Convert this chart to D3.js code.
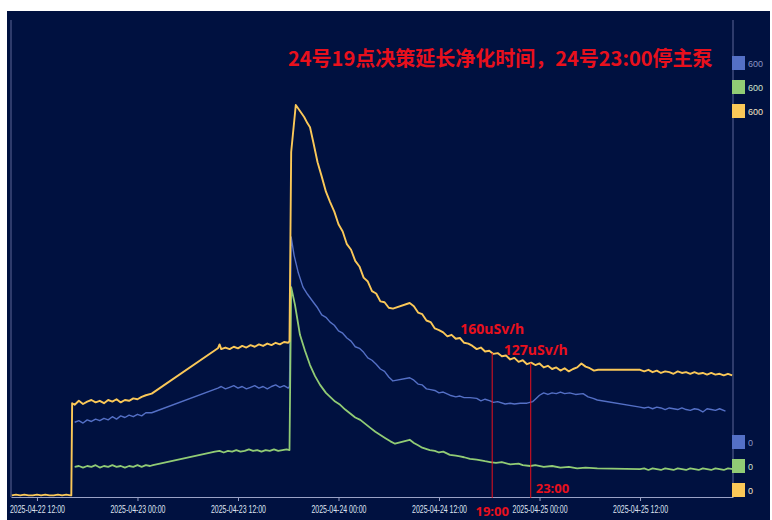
<!DOCTYPE html>
<html>
<head>
<meta charset="utf-8">
<script src="https://cdn.jsdelivr.net/npm/d3@7"></script>
<style>
  body { margin: 0; background: #fff; }
  svg { display: block; }
</style>
</head>
<body>
<script>
// time is counted in hours from 2025-04-22 00:00, values on a 0-600 axis
var yellowData = [
  [9,2],[9.5,3],[10,2],[10.5,3],[11,2],[11.5,2],[12,3],[12.5,2],[13,3],[13.5,2],[14,2],[14.5,3],[15,2],[15.5,3],[16,2],[16.1,2],
  [16.2,118],[16.5,116],[17,121],[17.5,117],[18,120],[18.5,122],[19,119],[19.5,121],[20,118],[20.5,122],[21,120],[21.5,123],[22,119],[22.5,122],[23,121],[23.5,124],[24,123],[24.5,126],[25,128],[25.7,130],
  [33.6,187],[33.8,192],[34,186],[34.5,188],[35,186],[35.5,189],[36,187],[36.5,190],[37,188],[37.5,191],[38,189],[38.5,192],[39,190],[39.5,193],[40,191],[40.5,194],[41,192],[41.5,195],[42,194],[42.15,196],
  [42.35,434],[42.9,493],[43.9,478],[44.3,470],[44.6,465],
  [45,446],[45.5,421],[46,403],[46.5,384],[47,371],[47.5,359],[48,343],[48.5,334],[49,318],[49.5,311],[50,297],[50.5,290],[51,276],[51.5,271],[52,259],[52.5,256],[53,246],[53.5,245],[54,238],[54.5,237],
  [56.5,244],[57,240],[57.5,232],[58,230],[58.5,222],[59,220],[59.5,212],[60,210],[60.5,207],[61,202],[61.5,204],[62,199],[62.5,200],[63,194],[63.5,193],[64,190],[64.5,186],[65,188],[65.5,183],[66,184],[66.5,180],[67,181],[67.5,177],[68,178],[68.5,173],[69,175],[69.5,170],[70,172],[70.5,167],[71,169],[71.5,166],[72,168],[72.5,163],[73,165],[73.5,161],[74,163],[74.5,159],[75,162],[75.5,158],[76,161],[76.5,163],[77,168],[77.5,164],[78,162],[78.5,159],[79,160],
  [84,160],[84.5,158],[85,160],[85.5,157],[86,159],[86.5,156],[87,158],[87.5,157],[88,155],[88.5,158],[89,156],[89.5,157],[90,155],[90.5,157],[91,155],[91.5,156],[92,154],[92.5,156],[93,154],[93.5,155],[94,153],[94.5,155],[95,153]
];
var blueData = [
  [16.5,94],[17,96],[17.5,93],[18,97],[18.5,95],[19,98],[19.5,96],[20,99],[20.5,97],[21,101],[21.5,98],[22,102],[22.5,100],[23,103],[23.5,101],[24,104],[24.5,102],[25,106],[25.7,106],
  [33.6,137],[34,139],[34.5,136],[35,138],[35.5,140],[36,137],[36.5,139],[37,136],[37.5,138],[38,140],[38.5,137],[39,139],[39.5,136],[40,139],[40.5,141],[41,138],[41.5,140],[42,137],[42.15,139],
  [42.35,327],[42.7,304],[43.2,282],[43.76,264],[44.3,255],[45,245],[45.5,238],[46,229],[46.5,226],[47,220],[47.5,216],[48,209],[48.5,206],[49,200],[49.5,196],[50,189],[50.5,187],[51,182],[51.5,175],[52,172],[52.5,167],[53,161],[53.5,158],[54,151],[54.5,146],
  [56.5,150],[57,147],[57.5,142],[58,141],[58.5,136],[59,135],[59.5,134],[60,131],[60.5,132],[61.3,128],[62,126],[62.5,127],[63,125],[63.7,125],[64.5,124],[65,121],[65.5,123],[66.1,121],[66.5,119],[67,120],[67.9,117],[68.5,118],[69,117],[69.7,118],[70.5,118],[71.2,120],[71.6,124],[72,128],[72.5,131],[73,129],[73.5,131],[74,130],[74.5,132],[75,130],[75.6,131],[76.3,129],[77.2,130],[77.8,126],[78.4,124],[78.9,122],
  [84,113],[84.5,112],[85,113],[85.5,111],[86,113],[86.5,112],[87,110],[87.5,112],[88,111],[88.5,110],[89,112],[89.5,110],[90,109],[90.5,111],[91,110],[91.5,107],[92,111],[92.5,110],[93,109],[93.5,111],[94.2,108]
];
var greenData = [
  [16.5,38],[17,39],[17.5,37],[18,39],[18.5,38],[19,40],[19.5,37],[20,39],[20.5,38],[21,40],[21.5,38],[22,39],[22.5,37],[23,39],[23.5,38],[24,40],[24.5,38],[25,40],[25.5,39],[25.85,40],
  [33.25,57],[33.8,58],[34.3,56],[34.8,58],[35.3,57],[35.8,59],[36.3,57],[36.8,58],[37.3,60],[37.8,58],[38.3,59],[38.8,57],[39.3,59],[39.8,58],[40.3,60],[40.8,58],[41.3,59],[41.8,60],[42.15,59],
  [42.35,264],[42.8,242],[43.4,204],[44,184],[44.6,166],[45.2,152],[45.8,141],[46.5,131],[47,126],[47.6,120],[48.2,116],[48.8,110],[49.4,105],[50,100],[50.6,97],[51.2,92],[51.8,87],[52.4,82],[53,78],[53.6,74],[54.2,70],[54.75,67],
  [56.5,72],[57,68],[57.5,65],[58,62],[58.9,59],[59.5,58],[60,56],[60.5,57],[61.3,53],[62,52],[62.5,51],[63,50],[63.7,48],[64.5,47],[65,46],[65.5,45],[66.1,44],[66.8,43],[67.5,44],[68.5,41],[69.5,42],[70,40],[70.9,39],[71.5,40],[72.5,38],[73.5,39],[74.5,37],[75.5,38],[76.5,36],[77.5,37],[78.9,36],
  [84,35],[84.5,36],[85,34],[85.5,36],[86,35],[86.5,34],[87,36],[87.5,35],[88,34],[88.5,36],[89,35],[89.5,34],[90,36],[90.5,35],[91,34],[91.5,36],[92,35],[92.5,34],[93,36],[93.5,35],[94,34],[94.5,36],[95.1,35]
];
var seriesColors = ["#5470c6", "#91cc75", "#fac858"];
var labelColors = ["#8c96c4", "#d2e4cc", "#f4e6c4"];
var tickHours = [12, 24, 36, 48, 60, 72, 84];
var markHours = [66.35, 70.95];
var markValueLabels = ["160uSv/h", "127uSv/h"];
var markTimeLabels = ["19:00", "23:00"];
var titleText = "24号19点决策延长净化时间，24号23:00停主泵";

var W = 772, H = 520;
var red = "#e8101c";
var base = new Date(2025, 3, 22, 0, 0);
function toDate(h) { return new Date(base.getTime() + h * 3600 * 1000); }

var svg = d3.select('body').append('svg')
    .attr('width', W).attr('height', H);

svg.append('rect')
    .attr('x', 7).attr('y', 11)
    .attr('width', 763).attr('height', H - 11)
    .attr('fill', '#001140');

var x = d3.scaleTime().domain([toDate(8.9), toDate(95.1)]).range([11, 733]);
var y = d3.scaleLinear().domain([0, 600]).range([497, 20]);

// frame lines left/right
[x.range()[0], x.range()[1]].forEach(function(px) {
    svg.append('line')
        .attr('x1', px).attr('x2', px)
        .attr('y1', y.range()[1]).attr('y2', y.range()[0])
        .attr('stroke', '#5d6796').attr('stroke-width', 1);
});

var xAxis = d3.axisBottom(x)
    .tickValues(tickHours.map(toDate))
    .tickFormat(d3.timeFormat('%Y-%m-%d %H:%M'))
    .tickSize(4).tickSizeOuter(0).tickPadding(4);

var gx = svg.append('g')
    .attr('transform', 'translate(0,' + y.range()[0] + ')')
    .call(xAxis);
gx.select('.domain').attr('stroke', '#9aa2c6');
gx.selectAll('.tick line').attr('stroke', '#9aa2c6');
// the labels in the picture use a narrow face
gx.selectAll('.tick text')
    .attr('fill', '#dfe3f0')
    .attr('textLength', 55)
    .attr('lengthAdjust', 'spacingAndGlyphs')
    .style('font-family', '"Liberation Sans", sans-serif')
    .style('font-size', '11.5px');

var line = d3.line()
    .x(function(d) { return x(toDate(d[0])); })
    .y(function(d) { return y(d[1]); });

var series = [blueData, greenData, yellowData];
var widths = [1.4, 1.8, 1.9];
series.forEach(function(data, i) {
    svg.append('path')
        .datum(data)
        .attr('d', line)
        .attr('fill', 'none')
        .attr('stroke', seriesColors[i])
        .attr('stroke-width', widths[i])
        .attr('stroke-linejoin', 'round');
});

// value of yellow curve at a given hour
function valueAt(data, h) {
    var i = d3.bisector(function(d) { return d[0]; }).left(data, h);
    var a = data[i - 1], b = data[i];
    var t = (h - a[0]) / (b[0] - a[0]);
    return a[1] + t * (b[1] - a[1]);
}

var labelShift = [[0, -19], [5, -8]];
markHours.forEach(function(h, i) {
    var px = x(toDate(h));
    var top = y(valueAt(yellowData, h));
    svg.append('line')
        .attr('x1', px).attr('x2', px)
        .attr('y1', top).attr('y2', y.range()[0] + 1)
        .attr('stroke', red).attr('stroke-width', 1);
    svg.append('text')
        .attr('x', px + labelShift[i][0]).attr('y', top + labelShift[i][1])
        .attr('text-anchor', 'middle')
        .attr('fill', red)
        .style('font-family', '"Noto Sans", sans-serif')
        .style('font-weight', 'bold').style('font-size', '14px')
        .text(markValueLabels[i]);
});
svg.append('text')
    .attr('x', x(toDate(markHours[0]))).attr('y', 516)
    .attr('text-anchor', 'middle')
    .attr('fill', red)
    .style('font-family', '"Noto Sans", sans-serif')
    .style('font-weight', 'bold').style('font-size', '13px')
    .text(markTimeLabels[0]);
svg.append('text')
    .attr('x', x(toDate(markHours[1])) + 5).attr('y', 493)
    .attr('fill', red)
    .style('font-family', '"Noto Sans", sans-serif')
    .style('font-weight', 'bold').style('font-size', '13px')
    .text(markTimeLabels[1]);

// title
svg.append('text')
    .attr('x', 288).attr('y', 66)
    .attr('fill', red)
    .style('font-family', '"Noto Sans CJK SC", sans-serif')
    .style('font-weight', 'bold').style('font-size', '20px')
    .text(titleText);

// right side markers: max on top, min at bottom
var topY = [56, 80, 104], botY = [435, 459, 483];
seriesColors.forEach(function(c, i) {
    [[topY[i], y.domain()[1]], [botY[i], y.domain()[0]]].forEach(function(m) {
        svg.append('rect')
            .attr('x', 732).attr('y', m[0])
            .attr('width', 13).attr('height', 14)
            .attr('fill', c);
        svg.append('text')
            .attr('x', 748).attr('y', m[0] + 11)
            .attr('fill', labelColors[i])
            .style('font-family', '"Liberation Sans", sans-serif')
            .style('font-size', '9px')
            .text(m[1]);
    });
});
</script>
</body>
</html>
